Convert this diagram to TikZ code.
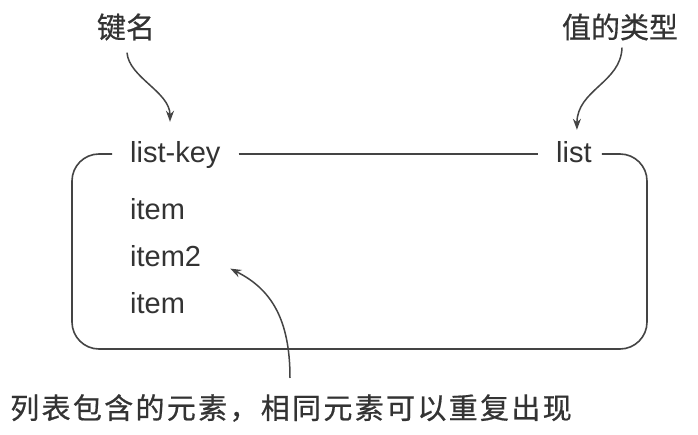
\documentclass[tikz,border=0pt]{standalone}
\usepackage{fontspec}
\setmainfont{Liberation Sans}
\newfontfamily\cjk[FakeBold=0.6]{Noto Sans CJK SC}
\usetikzlibrary{arrows.meta,calc}
\definecolor{ink}{HTML}{333333}
\definecolor{linec}{HTML}{444444}
\tikzset{
  lab/.style={text=ink,font=\fontsize{29}{34}\selectfont,inner sep=0pt},
  cjklab/.style={text=ink,font=\cjk\fontsize{29}{34}\selectfont,inner sep=0pt},
  frame/.style={draw=linec,line width=1.6pt,rounded corners=27pt},
  pointer/.style={draw=linec,line width=1.5pt,-{Stealth[length=11pt,width=8pt]}},
}
\begin{document}
\begin{tikzpicture}[x=1pt,y=-1pt]
\useasboundingbox (0,0) rectangle (698,435);
\fill[white] (0,0) rectangle (698,435);
% labels
\node[cjklab] (kname) at (126,27) {键名};
\node[cjklab] (ktype) at (620,27) {值的类型};
\node[cjklab,anchor=center] (kelem) at (291,408) {\addfontfeature{LetterSpace=8}列表包含的元素，相同元素可以重复出现};
% key and type
\node[lab,anchor=base west] (key) at (130,163) {list-key};
\node[lab,anchor=base west] (type) at (556,163) {list};
% items
\node[lab,anchor=base west] (i1) at (130,220) {item};
\node[lab,anchor=base west] (i2) at (130,267) {item2};
\node[lab,anchor=base west] (i3) at (130,313) {item};
% frame
\coordinate (tl) at (72,154);
\coordinate (bl) at (72,349);
\coordinate (br) at (647,349);
\coordinate (tr) at (647,154);
\draw[frame] ($(key.west|-tl)+(-18,0)$) -- (tl) -- (bl) -- (br) -- (tr) -- ($(type.east|-tr)+(10,0)$);
\draw[draw=linec,line width=1.6pt] ($(key.east|-tl)+(18,0)$) -- ($(type.west|-tl)+(-18,0)$);
% pointers
\draw[pointer] ($(kname.south)+(1,12)$) .. controls +(2,25) and +(0,-30) .. ($(key.north west)+(40,-20)$);
\draw[pointer] ($(ktype.south)+(2,7)$) .. controls +(-1,35) and +(0,-40) .. ($(type.north)+(3,-12)$);
\draw[pointer] ($(kelem.north)+(-1,-16)$) .. controls +(0,-60) and +(40,20) .. ($(i2.east)+(29,12)$);
\end{tikzpicture}
\end{document}
